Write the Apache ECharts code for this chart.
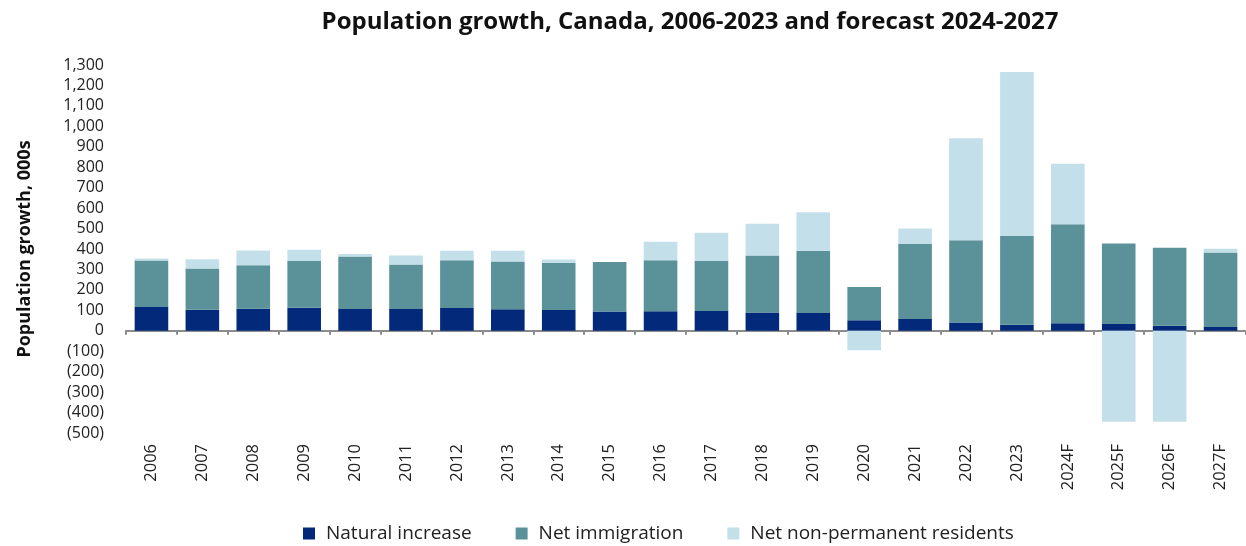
<!DOCTYPE html>
<html>
<head>
<meta charset="utf-8">
<script src="https://cdn.jsdelivr.net/npm/echarts@6/dist/echarts.min.js"></script>
<style>
  html, body { margin: 0; padding: 0; background: #ffffff; }
  #chart { width: 1246px; height: 546px; }
</style>
</head>
<body>
<div id="chart"></div>
<script>
// Years, actual and forecast
const categories = ['2006','2007','2008','2009','2010','2011','2012','2013','2014','2015',
  '2016','2017','2018','2019','2020','2021','2022','2023','2024F','2025F','2026F','2027F'];

// Components of population growth, thousands of people
const naturalIncrease = [116, 103, 108, 113, 106, 106, 111, 105, 102, 94,
  95, 97, 89, 87, 51, 58, 41, 30, 37, 33, 25, 19];
const netImmigration = [228, 202, 213, 228, 257, 218, 234, 234, 231, 243,
  250, 244, 279, 304, 163, 366, 402, 434, 484, 394, 381, 364];
const netNonPermanent = [10, 45, 72, 55, 12, 44, 46, 52, 16, 0,
  90, 138, 156, 189, -95, 76, 499, 802, 296, -445, -445, 18];

const seriesNames = ['Natural increase', 'Net immigration', 'Net non-permanent residents'];
const seriesColors = ['#03297a', '#5b9299', '#c3dfea'];

const FONT = '"Open Sans", "Liberation Sans", sans-serif';

function fmtTick(v) {
  if (v < 0) return '(' + Math.abs(v) + ')';
  return v.toLocaleString('en-US');
}

const chart = echarts.init(document.getElementById('chart'));

chart.setOption({
  backgroundColor: '#ffffff',
  animation: false,
  title: {
    text: 'Population growth, Canada, 2006-2023 and forecast 2024-2027',
    left: 685,
    textAlign: 'center',
    top: 5,
    textStyle: { fontFamily: FONT, fontWeight: 'bold', fontSize: 24, color: '#111111' }
  },
  legend: {
    bottom: 3,
    left: 303,
    padding: 0,
    itemWidth: 12,
    itemHeight: 12,
    itemGap: 44,
    icon: 'rect',
    textStyle: { fontFamily: FONT, fontSize: 19, color: '#222222', padding: [0, 0, 0, 6] },
    data: seriesNames
  },
  grid: { left: 126, right: 0, top: 65, bottom: 113, containLabel: false },
  xAxis: [
    {
      // category labels along the bottom of the plot
      type: 'category',
      data: categories,
      position: 'bottom',
      axisLine: { show: false, onZero: false },
      axisTick: { show: false },
      axisLabel: {
        rotate: 90,
        margin: 11,
        fontFamily: FONT,
        fontSize: 16.5,
        color: '#222222'
      }
    },
    {
      // baseline at zero with category boundary ticks
      type: 'category',
      data: categories,
      position: 'bottom',
      axisLine: { show: true, onZero: true, lineStyle: { color: '#8c8c8c', width: 2 } },
      axisTick: { show: true, length: 4, lineStyle: { color: '#8c8c8c', width: 2 } },
      axisLabel: { show: false }
    }
  ],
  yAxis: {
    type: 'value',
    min: -500,
    max: 1300,
    interval: 100,
    name: 'Population growth, 000s',
    nameLocation: 'middle',
    nameGap: 92,
    nameTextStyle: { fontFamily: FONT, fontWeight: 'bold', fontSize: 18, color: '#111111' },
    axisLine: { show: false },
    axisTick: { show: false },
    splitLine: { show: false },
    axisLabel: {
      formatter: fmtTick,
      margin: 22,
      fontFamily: FONT,
      fontSize: 16,
      color: '#222222'
    }
  },
  series: [
    { name: seriesNames[0], type: 'bar', stack: 'growth', data: naturalIncrease,
      itemStyle: { color: seriesColors[0] }, barCategoryGap: '34%' },
    { name: seriesNames[1], type: 'bar', stack: 'growth', data: netImmigration,
      itemStyle: { color: seriesColors[1] }, barCategoryGap: '34%' },
    { name: seriesNames[2], type: 'bar', stack: 'growth', data: netNonPermanent,
      itemStyle: { color: seriesColors[2] }, barCategoryGap: '34%' }
  ]
});
</script>
</body>
</html>
